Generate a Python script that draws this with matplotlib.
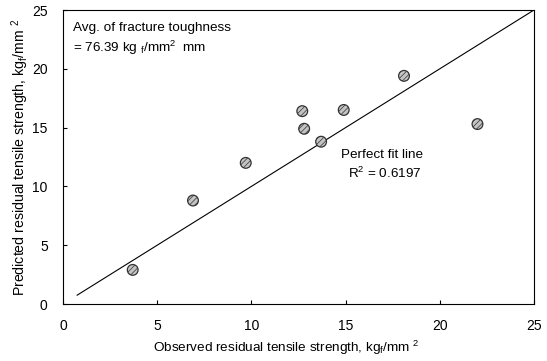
import matplotlib
matplotlib.use("Agg")
import matplotlib.pyplot as plt

plt.rcParams['font.family'] = ['Liberation Sans', 'DejaVu Sans']
plt.rcParams['mathtext.fontset'] = 'custom'
plt.rcParams['mathtext.rm'] = 'Liberation Sans'
plt.rcParams['mathtext.it'] = 'Liberation Sans:italic'
plt.rcParams['hatch.color'] = '#666666'
plt.rcParams['hatch.linewidth'] = 0.5

observed = [3.7, 6.9, 9.7, 12.7, 12.8, 13.7, 14.9, 18.1, 22.0]
predicted = [2.9, 8.8, 12.0, 16.4, 14.9, 13.8, 16.5, 19.4, 15.3]
fit_x = [0.75, 25]
fit_y = [0.75, 25]
ticks = [0, 5, 10, 15, 20, 25]

fig = plt.figure(figsize=(5.47, 3.61), dpi=100)
ax = fig.add_axes([63/547, 1-304/361, (534-63)/547, (304-10)/361])

ax.plot(fit_x, fit_y, color='black', lw=0.8)
ax.scatter(observed, predicted, s=60, facecolor='#c4c4c4', edgecolor='#333333',
           linewidths=0.9, hatch='//////', zorder=3)

ax.set_xlim(0, 25)
ax.set_ylim(0, 25)
ax.set_xticks(ticks)
ax.set_yticks(ticks)
ax.tick_params(direction='in', length=3, width=0.8, labelsize=10, pad=11,
               top=False, right=False)
for s in ax.spines.values():
    s.set_linewidth(0.8)

ax.set_xlabel(r'Observed residual tensile strength, kg$_\mathrm{f}$/mm $^2$', fontsize=9.7)
ax.xaxis.set_label_coords(0.473, -0.12)
ax.set_ylabel(r'Predicted residual tensile strength, kg$_\mathrm{f}$/mm $^2$', fontsize=10.2)
ax.yaxis.set_label_coords(-0.068, 0.5)

ax.text(0.55, 23.5, 'Avg. of fracture toughness', fontsize=9.7, va='center')
ax.text(0.55, 21.8, r'= 76.39 kg $_\mathrm{f}$/mm$^2$  mm', fontsize=9.7, va='center')
ax.text(16.95, 12.7, 'Perfect fit line', fontsize=9.7, ha='center', va='center')
ax.text(17.1, 11.1, r'R$^2$ = 0.6197', fontsize=9.7, ha='center', va='center')

fig.savefig('out.png', dpi=100)
